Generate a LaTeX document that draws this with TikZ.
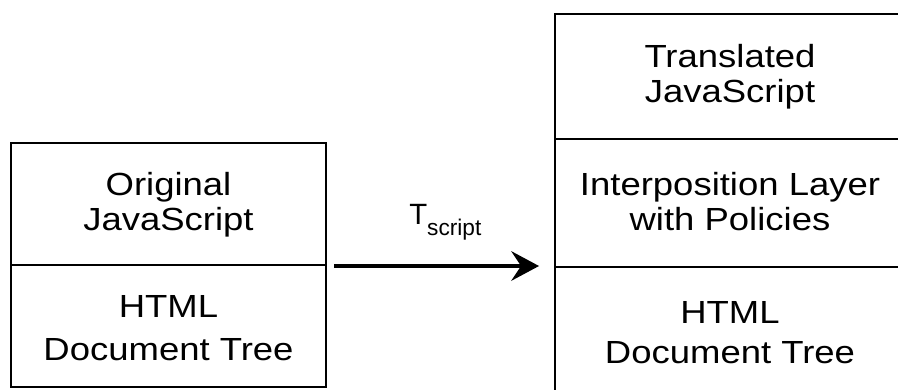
\documentclass[tikz,border=0pt]{standalone}
\usepackage{fontspec}
\setmainfont{Liberation Sans}[FakeStretch=1.14]
\newfontfamily\labelfont{Liberation Sans}
\usetikzlibrary{arrows.meta}

\begin{document}
\begin{tikzpicture}[x=0.75pt, y=-0.75pt,
  cell/.style={draw=black, line width=1.5pt, rectangle, inner sep=0pt},
  txt/.style={anchor=base, inner sep=0pt, font=\fontsize{24}{28}\selectfont},
  arr/.style={line width=3.5pt, -{Stealth[length=21pt, width=22.5pt, inset=7.5pt, line width=0pt]}}]

  \useasboundingbox (0,0) rectangle (898,389);
  \clip (0,0) rectangle (898,389);

  % Left stack: original page
  \node[cell, minimum width=236.25pt, minimum height=91.5pt] (lt) at (168.5,204) {};
  \node[cell, minimum width=236.25pt, minimum height=91.5pt] (lb) at (168.5,326) {};

  \node[txt] (l1) at (168.5,195) {Original};
  \node[txt] (l2) at (168.5,230) {JavaScript};
  \node[txt] (l3) at (168.5,317) {HTML};
  \node[txt] (l4) at (168.5,360) {Document Tree};

  % Right stack: translated page
  \node[cell, minimum width=262.5pt, minimum height=93.75pt] (rt) at (730,76.5) {};
  \node[cell, minimum width=262.5pt, minimum height=96pt] (rm) at (730,203) {};
  \node[cell, minimum width=262.5pt, minimum height=96pt] (rb) at (730,331) {};

  \node[txt] (r1) at (730,67) {Translated};
  \node[txt] (r2) at (730,102) {JavaScript};
  \node[txt] (r3) at (730,195) {Interposition Layer};
  \node[txt] (r4) at (730,230) {with Policies};
  \node[txt] (r5) at (730,323) {HTML};
  \node[txt] (r6) at (730,363) {Document Tree};

  % Transformation arrow
  \coordinate (ae) at (lt.south east -| rm.west);
  \draw[arr] ([xshift=5.25pt]lt.south east) -- ([xshift=-11.25pt]ae);
  \node[anchor=base west, inner sep=0pt] (tl) at (409,224)
    {\labelfont\fontsize{22}{22}\selectfont T\raisebox{-8.25pt}{\fontsize{17}{17}\selectfont script}};
\end{tikzpicture}
\end{document}
